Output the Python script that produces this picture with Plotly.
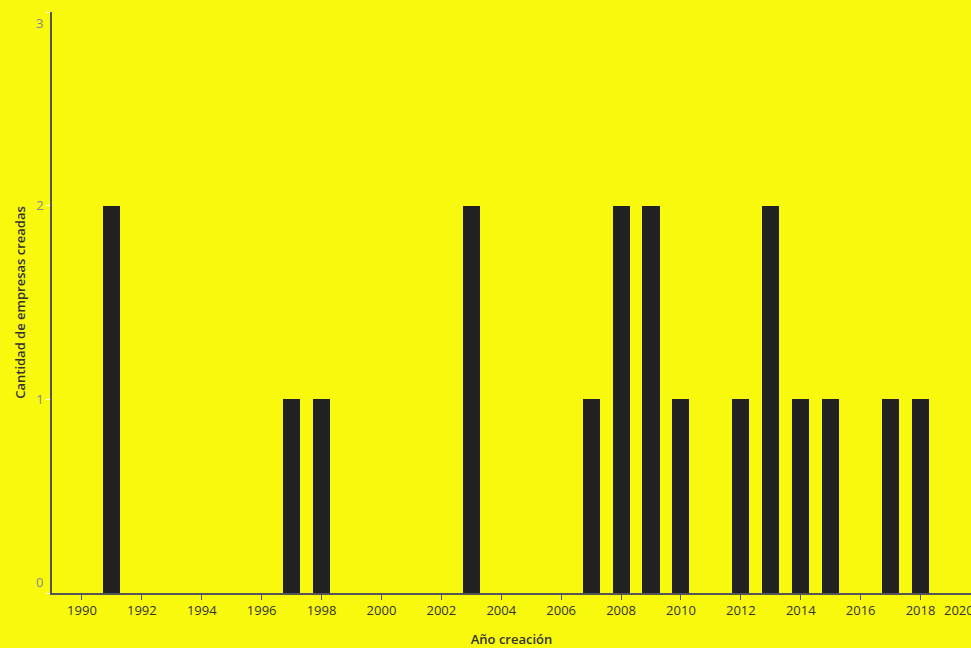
import plotly.graph_objects as go

years = [1991, 1997, 1998, 2003, 2007, 2008, 2009, 2010, 2012, 2013, 2014, 2015, 2017, 2018]
counts = [2, 1, 1, 2, 1, 2, 2, 1, 1, 2, 1, 1, 1, 1]

x_tick_vals = list(range(1990, 2019, 2))
x_tick_text = [str(v) for v in x_tick_vals]
y_tick_vals = [0, 1, 2, 3]
y_tick_text = ["", "1", "2", ""]

BG = "#F9F90E"
BAR = "#212121"
FONT = "Open Sans, Noto Sans, sans-serif"

fig = go.Figure(go.Bar(x=years, y=counts, width=0.57, marker=dict(color=BAR, line=dict(width=0))))

fig.update_layout(
    width=971, height=648,
    margin=dict(l=52, r=0, t=12, b=55),
    paper_bgcolor=BG, plot_bgcolor=BG,
    font=dict(family=FONT, size=13, color="#333333"),
    showlegend=False,
    bargap=0,
)
fig.update_xaxes(
    range=[1989, 2019.685], tickvals=x_tick_vals, ticktext=x_tick_text,
    showgrid=False, zeroline=False, showline=True, linecolor="#555555", linewidth=1.5,
    ticks="outside", ticklen=5, tickcolor="#555555", tickwidth=1,
    tickfont=dict(size=13, color="#333333"),
    title=dict(text="Año creación", font=dict(size=13, color="#333333", weight=600), standoff=17),
)
fig.update_yaxes(
    range=[0, 3], tickvals=y_tick_vals, ticktext=y_tick_text,
    showgrid=False, zeroline=False, showline=True, linecolor="#555555", linewidth=1.5,
    ticks="outside", ticklen=4, tickcolor="#FFFFFF", tickwidth=1,
    tickfont=dict(size=13, color="#888888"),
    title=dict(text="Cantidad de empresas creadas", font=dict(size=13, color="#333333", weight=600), standoff=8),
)

# flush end labels (first/last labels aligned inside the axis range)
fig.add_annotation(text="3", xref="paper", x=0, xanchor="right", xshift=-7,
                   yref="y", y=3, yanchor="top", showarrow=False,
                   font=dict(size=13, color="#888888", family=FONT))
fig.add_annotation(text="0", xref="paper", x=0, xanchor="right", xshift=-7,
                   yref="y", y=0, yanchor="bottom", showarrow=False,
                   font=dict(size=13, color="#888888", family=FONT))
fig.add_annotation(text="2020", xref="paper", x=(976 - 52) / 919, xanchor="right",
                   yref="paper", y=0, yanchor="top", yshift=-6, showarrow=False,
                   font=dict(size=13, color="#333333", family=FONT))

fig.write_html(
    "out.html",
    config={"displayModeBar": False},
    post_script="document.body.style.margin='0';document.body.style.overflow='hidden';"
                "document.documentElement.style.overflow='hidden';",
)
